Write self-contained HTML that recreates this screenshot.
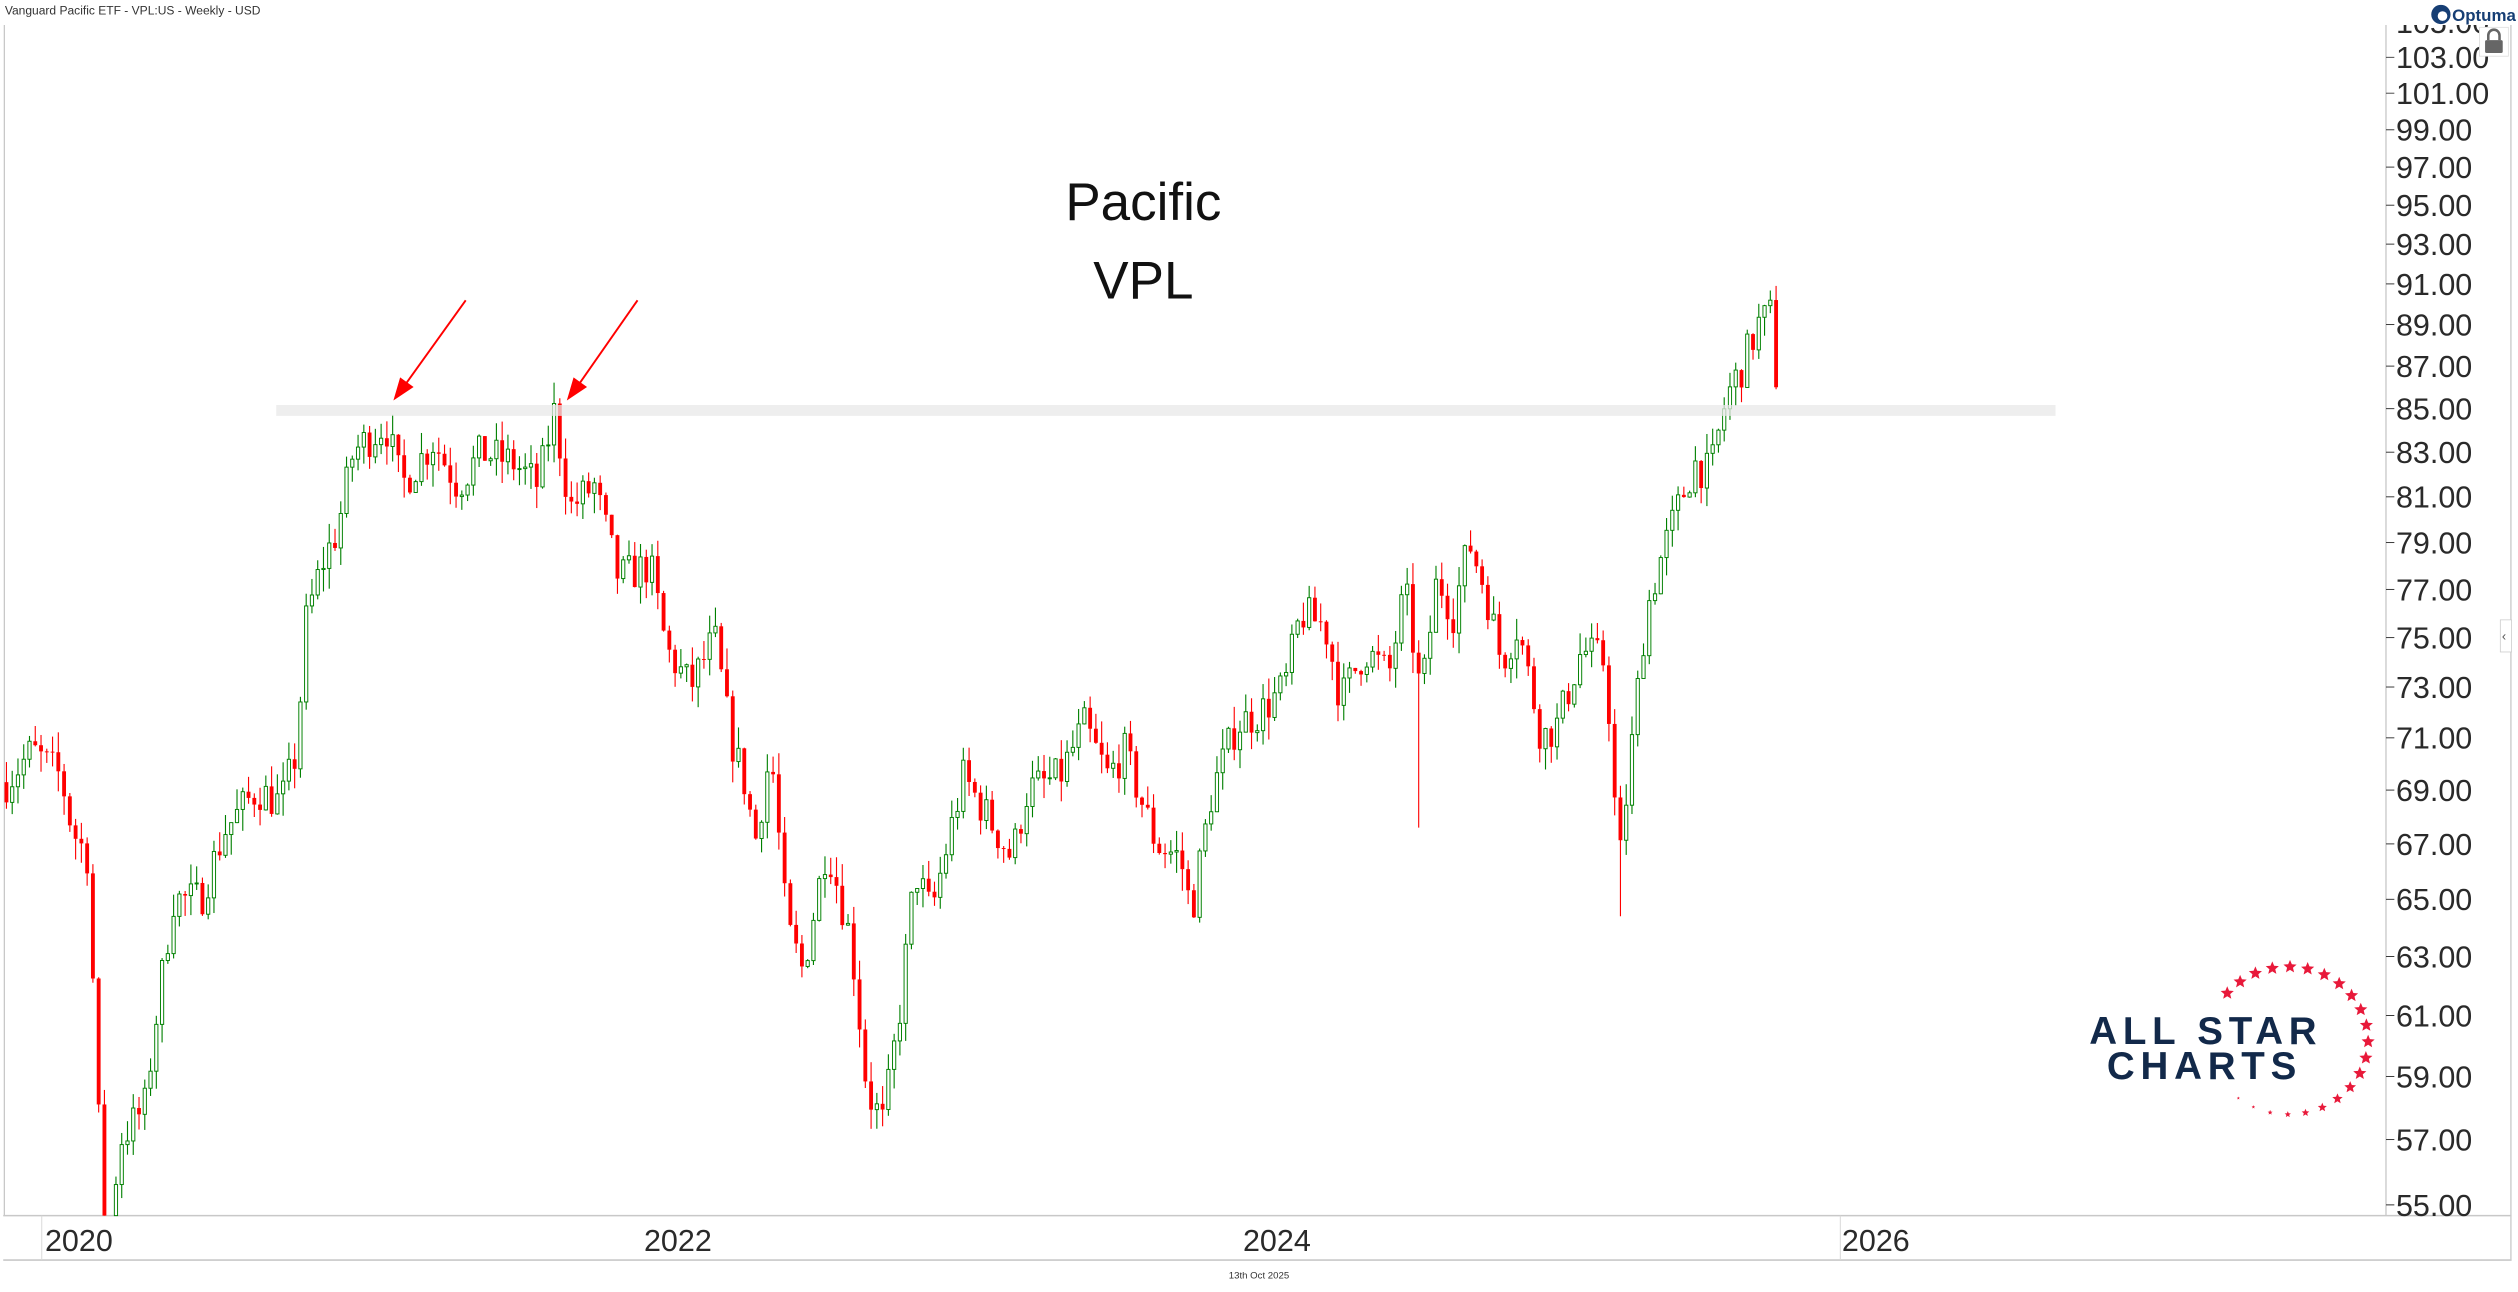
<!DOCTYPE html>
<html><head><meta charset="utf-8"><style>
html,body{margin:0;padding:0;background:#fff;}
svg{display:block}
text{font-family:"Liberation Sans",sans-serif;}
</style></head><body>
<svg id="s" width="2518" height="1292" viewBox="0 0 1568 804.56" xmlns="http://www.w3.org/2000/svg">
<defs><clipPath id="pc"><rect x="0" y="15.6" width="1568" height="742"/></clipPath></defs>
<rect x="0" y="0" width="1568" height="805" fill="#fff"/>
<text x="3" y="9" font-size="7.5" fill="#333">Vanguard Pacific ETF - VPL:US - Weekly - USD</text>
<line x1="2.7" y1="15.6" x2="2.7" y2="757" stroke="#c8c8c8" stroke-width="0.8"/>
<line x1="1485.8" y1="15.6" x2="1485.8" y2="757" stroke="#c8c8c8" stroke-width="0.8"/>
<line x1="1563.6" y1="15.6" x2="1563.6" y2="785" stroke="#c8c8c8" stroke-width="0.8"/>
<line x1="2" y1="757" x2="1564" y2="757" stroke="#c8c8c8" stroke-width="1"/>
<line x1="2" y1="784.7" x2="1564" y2="784.7" stroke="#c8c8c8" stroke-width="1"/>
<line x1="26" y1="757" x2="26" y2="784.7" stroke="#d8d8d8" stroke-width="0.6"/>
<line x1="1146" y1="757" x2="1146" y2="784.7" stroke="#d8d8d8" stroke-width="0.6"/>
<g font-size="19" fill="#2a2a2a">
<text x="28" y="779">2020</text><text x="401" y="779">2022</text><text x="774" y="779">2024</text><text x="1147" y="779">2026</text>
</g>
<text x="784" y="796" font-size="6" fill="#333" text-anchor="middle">13th Oct 2025</text>
<g id="cand"></g>
<rect x="172" y="252.2" width="1108" height="6.8" fill="#e8e8e8" fill-opacity="0.75"/>
<g id="yax" font-size="19" fill="#2a2a2a" clip-path="url(#pc)"></g>
<g stroke="#f00" stroke-width="1.2" fill="#f00">
<line x1="290" y1="187" x2="252" y2="240"/><polygon points="246,248 249.5,236 256.5,241"/>
<line x1="397" y1="187" x2="360" y2="240"/><polygon points="354,248 357.5,236 364.5,241"/>
</g>
<text x="712" y="137" font-size="33" fill="#111" text-anchor="middle">Pacific</text>
<text x="712" y="186" font-size="33" fill="#111" text-anchor="middle">VPL</text>
<g font-weight="bold" fill="#12294a" font-size="24">
<text x="1301" y="650" letter-spacing="3.6">ALL STAR</text>
<text x="1312" y="672" letter-spacing="3.6">CHARTS</text>
</g>
<g id="stars" fill="#e8193a"></g>
<circle cx="1520" cy="9" r="6" fill="#163e74"/><circle cx="1521" cy="10" r="3" fill="#fff"/>
<text x="1527" y="13" font-size="10.5" font-weight="bold" fill="#163e74">Optuma</text>
<rect x="1544" y="17" width="18" height="18" fill="#fff" stroke="#ddd" stroke-width="0.5"/>
<rect x="1547.5" y="25" width="11" height="8" rx="1" fill="#666"/>
<path d="M1549.5 25 v-3 a3.5 3.5 0 0 1 7 0 v3" fill="none" stroke="#666" stroke-width="1.6"/>
<rect x="1557" y="386" width="7" height="20" fill="#fff" stroke="#ccc" stroke-width="0.5"/>
<text x="1558" y="399" font-size="8" fill="#555">‹</text>
</svg>
<script>
(function(){
var NS="http://www.w3.org/2000/svg";
function Y(p){return 35.7+(Math.log(103)-Math.log(p))*1139;}
var ax=document.getElementById('yax');
for(var v=55;v<=105;v+=2){var y=Y(v);
 var l=document.createElementNS(NS,'line');l.setAttribute('x1',1485.8);l.setAttribute('x2',1491);l.setAttribute('y1',y);l.setAttribute('y2',y);l.setAttribute('stroke','#333');l.setAttribute('stroke-width',0.6);ax.appendChild(l);
 var t=document.createElementNS(NS,'text');t.setAttribute('x',1492);t.setAttribute('y',y+6.8);t.textContent=v.toFixed(2);ax.appendChild(t);}
var kp=[[4,69.3],[20,70.5],[38,69.5],[45,67.5],[55,66.5],[58,62],[65,53],[75,57],[90,58],[100,62],[108,65],[125,65],[140,67.5],[160,69],[175,68.5],[185,70.5],[190,75.5],[200,78],[210,79.5],[220,83],[240,84.3],[250,81.5],[270,83.5],[285,81.5],[300,83],[320,82.5],[335,81.5],[345,84.8],[355,80.5],[370,81.5],[385,77.5],[405,78],[415,74.5],[430,73],[445,75],[455,71],[465,69],[470,67],[480,70.5],[490,64],[500,62.5],[515,67],[530,63.5],[540,58.5],[550,57.5],[560,61],[570,66],[580,64.5],[600,69.5],[615,68],[630,66.5],[640,69],[660,69.5],[675,71.5],[690,69.5],[700,70.5],[720,67],[735,66.5],[742,64.5],[755,69],[770,71.5],[785,72],[800,73],[810,76],[825,75.5],[835,72.5],[850,74.5],[865,73.5],[875,77],[885,72.5],[895,77.5],[905,76],[915,79],[925,77],[935,74],[945,75.5],[960,71],[970,71.5],[985,74.5],[1000,74],[1008,66],[1015,70],[1025,76],[1035,78.5],[1045,80.5],[1055,82.5],[1065,82],[1075,85.5],[1085,87],[1095,89],[1103,89.5],[1107,86]];
function interp(x){for(var i=1;i<kp.length;i++){if(x<=kp[i][0]){var a=kp[i-1],b=kp[i];return a[1]+(b[1]-a[1])*(x-a[0])/(b[0]-a[0]);}}return kp[kp.length-1][1];}
var seed=7;function r(){seed=(seed*16807)%2147483647;return seed/2147483647;}
var g=document.getElementById('cand');var N=308,dx=(1106-4)/(N-1);
var prev=interp(4);var s="";
for(var i=0;i<N;i++){var x=4+i*dx;var c=interp(x)*(1+(r()-0.5)*0.022);var o=prev;
 if(i==N-1){o=90.2;c=86;}
 var hi=Math.max(o,c)*(1+r()*0.012),lo=Math.min(o,c)*(1-r()*0.012);
 if(Math.abs(x-885)<2)lo=67.6; if(Math.abs(x-1008)<2)lo=64.4; if(i==N-1)hi=90.9;
 var up=c>=o;var col=up?'#008000':'#f00';
 var yh=Math.min(Y(hi),757),yl=Math.min(Y(lo),757),yo=Y(o),yc=Y(c);
 var top=Math.min(yo,yc),h=Math.max(Math.abs(yo-yc),0.6);
 if(top<757){
 s+='<line x1="'+x+'" x2="'+x+'" y1="'+yh+'" y2="'+yl+'" stroke="'+col+'" stroke-width="0.7"/>';
 var hh=Math.min(h,757-top);
 if(up)s+='<rect x="'+(x-1)+'" y="'+top+'" width="2" height="'+hh+'" fill="#fff" stroke="'+col+'" stroke-width="0.6"/>';
 else s+='<rect x="'+(x-1.2)+'" y="'+top+'" width="2.4" height="'+hh+'" fill="'+col+'"/>';}
 prev=c;}
g.innerHTML=s;
var st=document.getElementById('stars');var ss="";
function star(cx,cy,R){var p=[];for(var k=0;k<10;k++){var a=-Math.PI/2+k*Math.PI/5;var rr=k%2?R*0.45:R;p.push((cx+rr*Math.cos(a)).toFixed(2)+','+(cy+rr*Math.sin(a)).toFixed(2));}return '<polygon points="'+p.join(' ')+'"/>';}
var cx=1425,cy=648,RR=46;
for(var k=0;k<22;k++){var a=(-140+k*12.8)*Math.PI/180;var sz=k<14?4.3:(4.3-(k-13)*0.45);ss+=star(cx+RR*Math.cos(a)*1.08,cy+RR*Math.sin(a),Math.max(sz,1));}
st.innerHTML=ss;
})();
</script>
</body></html>
